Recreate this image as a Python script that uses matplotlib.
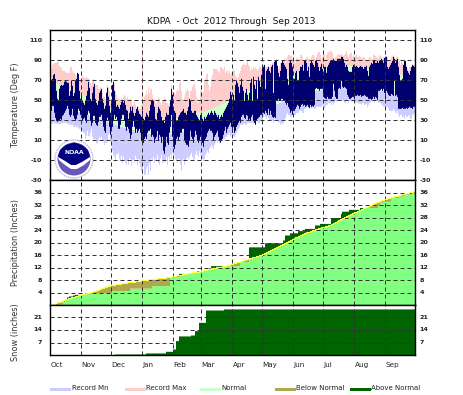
import numpy as np
import matplotlib
matplotlib.use("Agg")
import matplotlib.pyplot as plt
from matplotlib.patches import Circle, Polygon

W, H = 464, 395

# temperature, one list per month, Oct 2012 .. Sep 2013
high_oct = [71,72,76,77,72,60,52,50,62,65,66,65,66,69,70,69,68,68,55,60,70,65,55,58,70,72,78,77,60,52,55]
high_nov = [50,48,46,50,55,60,69,63,52,50,58,64,67,52,48,46,50,58,60,62,52,48,42,45,58,63,54,45,38,50]
high_dec = [66,69,60,50,44,46,44,42,46,49,50,48,50,46,41,40,32,38,44,40,44,38,35,38,42,44,40,37,36,34,40]
high_jan = [32,30,34,38,36,34,40,46,50,51,50,44,32,30,38,44,42,40,34,30,30,28,34,38,36,36,44,50,62,56,42]
high_feb = [40,38,30,30,34,36,38,39,40,42,38,38,36,40,44,52,50,40,38,38,40,40,36,34,32,30,36,38]
high_mar = [32,30,34,32,34,36,38,36,38,40,38,36,40,38,36,34,36,32,34,36,34,38,40,42,44,46,48,52,59,56,50]
high_apr = [56,50,66,70,68,64,58,66,72,64,60,50,58,62,56,50,58,68,72,50,74,66,62,70,52,74,70,64,76,84]
high_may = [84,86,62,80,82,84,80,78,84,86,58,89,90,91,85,78,74,80,88,90,88,86,84,82,72,66,88,90,88,84,72]
high_jun = [72,78,80,71,71,80,84,84,86,80,90,91,88,80,84,74,88,90,88,86,84,90,91,88,84,80,84,87,82,78]
high_jul = [84,84,78,84,86,88,90,90,90,92,90,90,90,92,92,92,92,94,94,92,88,84,86,84,80,79,79,79,84,86,84]
high_aug = [84,85,84,83,84,85,84,84,82,84,84,85,80,75,84,86,88,87,90,90,88,88,90,88,90,90,92,90,88,93,94]
high_sep = [94,84,82,84,86,88,90,94,92,88,90,92,84,76,70,70,72,86,90,90,84,80,78,76,80,84,86,85,84,85]

low_oct = [40,45,45,38,33,30,29,30,30,32,31,35,36,38,40,42,45,42,36,34,36,42,35,32,30,32,36,42,40,36,33]
low_nov = [30,32,33,30,28,36,40,38,30,25,28,35,35,28,26,25,29,34,34,36,30,24,20,18,30,33,30,24,16,20]
low_dec = [24,30,36,32,34,30,22,22,26,32,36,36,30,24,20,24,22,18,12,16,24,30,24,18,22,18,20,22,18,10,8]
low_jan = [8,12,14,12,18,20,20,22,14,16,14,8,12,14,20,10,16,14,8,14,0,-3,4,14,8,6,18,24,36,14,4]
low_feb = [2,6,12,14,10,14,18,18,22,22,10,8,6,6,4,10,20,14,12,8,14,20,16,10,8,10,14,10]
low_mar = [8,4,10,12,14,18,20,22,20,20,18,10,14,16,18,20,14,10,8,10,12,16,20,24,18,22,24,26,28,24,18]
low_apr = [24,18,20,24,26,28,30,28,34,36,36,33,32,36,35,30,32,30,34,36,30,28,26,30,32,33,34,36,36,38]
low_may = [38,37,40,38,36,42,36,40,36,34,33,34,33,50,50,52,50,50,52,52,50,50,48,46,48,44,42,38,40,36,40]
low_jun = [40,42,44,46,45,42,44,46,47,45,46,44,45,46,44,43,46,44,45,44,46,62,63,62,62,60,62,62,62,54]
low_jul = [53,52,52,54,52,52,52,52,54,67,60,54,52,52,62,63,62,70,64,63,64,63,62,56,54,52,52,53,54,54,52]
low_aug = [55,55,56,55,55,56,54,55,55,56,55,54,54,52,52,52,51,52,54,52,54,53,51,60,60,61,62,60,62,58,52]
low_sep = [60,58,56,55,55,57,56,55,70,55,56,54,42,42,42,42,43,42,42,42,43,42,43,44,43,43,42,44,44,46]

recmax_oct = [82,86,87,88,88,88,89,89,85,84,83,80,80,80,79,78,78,78,78,84,84,80,78,78,76,74,72,72,70,70,70]
recmax_nov = [76,74,73,73,74,73,72,72,68,66,70,72,68,66,66,66,62,62,64,62,58,54,54,52,60,66,64,60,52,50]
recmax_dec = [66,70,68,60,56,52,52,52,50,52,52,54,56,55,52,54,50,52,52,50,46,46,50,46,42,44,44,42,42,46,100]
recmax_jan = [50,54,56,60,56,64,58,62,62,56,52,52,48,46,50,54,52,48,46,50,50,54,52,48,48,46,48,52,66,60,56]
recmax_feb = [58,56,60,62,60,68,69,60,52,50,54,58,60,62,60,52,60,60,64,66,68,62,54,52,48,50,60,62]
recmax_mar = [58,60,70,72,76,78,66,60,64,72,76,82,82,82,82,80,80,78,84,84,82,82,84,78,80,80,78,80,76,78,78]
recmax_apr = [82,80,76,74,72,74,78,80,84,86,88,86,86,88,90,86,84,80,82,82,84,82,84,82,80,82,84,84,82,84]
recmax_may = [86,86,84,84,84,82,84,86,86,88,88,90,90,92,86,82,84,88,88,90,90,92,88,92,94,96,96,95,95,92,90]
recmax_jun = [90,88,92,94,92,92,96,96,94,90,88,92,93,94,92,92,90,94,96,96,94,92,94,97,99,99,96,92,94,96]
recmax_jul = [97,92,96,98,99,99,100,100,98,94,92,94,94,96,97,96,96,97,96,95,96,98,100,96,94,96,98,98,94,96,94]
recmax_aug = [95,96,94,94,95,94,92,94,94,93,92,90,90,92,94,94,92,92,96,96,95,94,94,92,95,96,94,92,94,92,94]
recmax_sep = [95,94,90,90,92,94,95,96,94,92,94,94,92,90,86,92,88,86,92,90,84,82,80,84,84,84,85,86,86,86]

recmin_oct = [27,27,28,28,27,27,27,27,27,27,27,28,28,28,28,28,27,26,27,26,26,26,24,24,25,24,24,23,22,22,20]
recmin_nov = [20,18,18,12,15,20,15,14,18,22,14,12,10,12,8,7,10,14,12,14,10,10,6,8,8,10,16,18,10,5]
recmin_dec = [0,-4,-6,-10,-3,-4,-2,-8,-10,-5,-12,-6,-10,-12,-14,-10,-14,-8,-8,-15,-10,-9,-12,-5,-8,-14,-8,-12,-16,-20,-26]
recmin_jan = [-15,-24,-24,-18,-15,-24,-12,-20,-8,-10,-6,-12,-8,-10,-4,-12,-14,-8,-4,-12,-10,-12,-10,-6,-14,-6,-8,-4,-8,-2,-4]
recmin_feb = [-4,-8,-10,-12,-8,-8,-14,-20,-10,-8,-14,-10,-8,-6,-8,-6,-4,-2,-6,-10,-8,-4,0,-4,-6,0,-4,-2]
recmin_mar = [-8,-10,-8,-4,-2,0,-2,2,4,6,4,2,6,8,10,8,10,8,10,12,10,12,12,14,14,16,16,18,14,16,18]
recmin_apr = [15,14,16,18,20,22,24,26,26,26,27,27,26,26,28,28,28,28,28,28,27,28,27,30,29,28,28,30,30,30]
recmin_may = [34,36,34,32,35,33,30,30,30,30,28,32,30,30,31,28,29,26,28,27,28,31,33,36,38,36,36,34,34,36,38]
recmin_jun = [36,36,38,38,38,40,40,40,38,38,42,42,43,44,43,42,44,42,43,44,42,42,44,44,44,44,44,44,45,46]
recmin_jul = [42,44,46,46,48,47,48,46,48,46,48,50,49,50,50,50,51,50,50,50,48,48,50,50,48,50,50,50,49,50,50]
recmin_aug = [48,49,48,48,47,47,46,48,47,46,46,47,44,46,48,48,50,49,50,48,50,50,49,48,48,48,46,46,44,44,44]
recmin_sep = [44,44,42,40,40,40,40,42,40,38,38,40,36,34,36,36,34,34,32,36,34,34,36,35,32,32,36,36,38,38]

normhi_oct = [70,70,69,69,68,68,67,67,66,66,65,65,65,64,64,63,63,62,62,61,61,60,60,59,59,58,58,58,57,57,56]
normhi_nov = [56,55,55,54,54,53,53,52,52,51,51,50,50,49,49,48,48,47,47,46,46,45,45,44,44,43,43,42,42,41]
normhi_dec = [41,40,40,39,39,38,38,37,37,37,36,36,36,35,35,35,34,34,34,33,33,33,33,32,32,32,32,32,31,31,31]
normhi_jan = [31,31,31,31,31,31,30,30,30,30,30,30,30,30,30,30,30,31,31,31,31,31,31,31,32,32,32,32,32,33,33]
normhi_feb = [33,33,33,33,34,34,34,34,34,35,35,35,35,35,36,36,36,36,37,37,37,37,37,38,38,38,38,38]
normhi_mar = [38,39,39,39,40,40,41,41,41,42,42,43,43,43,44,44,45,45,46,46,47,47,48,48,49,49,50,50,51,51,52]
normhi_apr = [53,53,54,54,55,55,56,56,57,57,58,58,59,59,60,60,60,61,61,62,62,63,63,64,64,64,65,65,66,66]
normhi_may = [66,67,67,68,68,68,69,69,69,70,70,70,71,71,71,72,72,72,73,73,73,74,74,74,75,75,75,76,76,76,77]
normhi_jun = [77,77,77,78,78,78,79,79,79,80,80,80,80,81,81,81,81,82,82,82,82,83,83,83,83,83,84,84,84,84]
normhi_jul = [84,84,84,84,85,85,85,85,85,85,85,85,85,85,85,85,85,85,85,85,85,85,85,85,85,85,85,85,85,85,84]
normhi_aug = [84,84,84,84,84,84,84,84,84,84,84,84,83,83,83,83,83,83,83,83,82,82,82,82,82,82,81,81,81,81,81]
normhi_sep = [80,80,80,80,79,79,79,79,78,78,78,77,77,77,76,76,76,75,75,75,74,74,74,73,73,73,72,72,72,71]

normlo_oct = [50,50,49,49,48,48,47,47,46,46,45,45,45,44,44,43,43,43,42,42,41,41,41,40,40,40,39,39,39,38,38]
normlo_nov = [38,38,37,37,37,36,36,35,35,35,34,34,33,33,33,32,32,32,31,31,30,30,30,29,29,29,28,28,28,27]
normlo_dec = [27,27,26,26,26,25,25,25,24,24,24,23,23,23,22,22,22,22,21,21,21,21,20,20,20,20,20,19,19,19,19]
normlo_jan = [18,18,18,18,18,17,17,17,17,17,17,16,16,16,16,16,16,16,16,16,16,16,16,17,17,17,17,17,17,17,17]
normlo_feb = [17,17,17,18,18,18,18,18,18,19,19,19,19,19,19,20,20,20,20,20,20,20,21,21,21,21,21,21]
normlo_mar = [22,22,22,23,23,23,24,24,24,25,25,25,26,26,26,27,27,27,28,28,28,29,29,29,30,30,30,31,31,31,32]
normlo_apr = [33,33,33,34,34,34,35,35,35,36,36,36,37,37,37,38,38,38,38,39,39,39,40,40,40,41,41,41,42,42]
normlo_may = [42,43,43,43,44,44,44,45,45,45,46,46,46,47,47,47,48,48,48,49,49,49,50,50,50,50,51,51,51,52,52]
normlo_jun = [53,53,53,54,54,54,55,55,55,56,56,56,57,57,57,58,58,58,58,59,59,59,60,60,60,60,60,61,61,61]
normlo_jul = [62,62,62,62,62,63,63,63,63,63,63,63,64,64,64,64,64,64,64,64,64,64,64,64,64,64,64,64,64,64,64]
normlo_aug = [64,64,64,64,64,64,64,64,63,63,63,63,63,63,63,62,62,62,62,62,62,61,61,61,61,61,60,60,60,60,60]
normlo_sep = [59,59,59,58,58,58,58,57,57,57,56,56,56,55,55,55,54,54,54,53,53,53,52,52,52,52,51,51,51,50]

# normal accumulated precipitation per day
precip_normal_oct = [0,.1,.2,.4,.5,.6,.7,.9,1.0,1.1,1.2,1.4,1.5,1.6,1.8,1.9,2.0,2.1,2.2,2.3,2.4,2.5,2.6,2.7,2.8,2.9,3.0,3.1,3.2,3.3,3.4]
precip_normal_nov = [3.5,3.6,3.6,3.7,3.7,3.8,3.9,4.0,4.1,4.2,4.3,4.4,4.5,4.6,4.7,4.8,4.9,5.0,5.1,5.2,5.4,5.5,5.6,5.8,5.9,6.0,6.1,6.2,6.3,6.4]
precip_normal_dec = [6.5,6.5,6.6,6.6,6.7,6.7,6.8,6.8,6.9,6.9,7.0,7.0,7.1,7.1,7.2,7.2,7.3,7.3,7.4,7.4,7.5,7.5,7.6,7.6,7.7,7.7,7.8,7.8,7.9,7.9,8.0]
precip_normal_jan = [8.1,8.1,8.1,8.2,8.2,8.2,8.3,8.3,8.3,8.4,8.4,8.4,8.5,8.5,8.5,8.6,8.6,8.6,8.7,8.7,8.7,8.8,8.8,8.8,8.9,8.9,9.0,9.0,9.1,9.2,9.3]
precip_normal_feb = [9.4,9.5,9.5,9.6,9.6,9.7,9.7,9.8,9.8,9.9,9.9,10.0,10.0,10.1,10.2,10.2,10.3,10.3,10.4,10.5,10.5,10.6,10.6,10.7,10.8,10.8,10.9,11.0]
precip_normal_mar = [11.1,11.1,11.2,11.3,11.3,11.4,11.5,11.5,11.6,11.7,11.8,11.8,11.9,12.0,12.0,12.1,12.2,12.2,12.3,12.4,12.4,12.5,12.6,12.6,12.7,12.8,12.9,13.0,13.0,13.1,13.2]
precip_normal_apr = [13.3,13.4,13.5,13.6,13.7,13.8,13.9,14.0,14.1,14.2,14.3,14.4,14.5,14.6,14.7,14.8,14.9,15.0,15.1,15.2,15.3,15.4,15.5,15.6,15.7,15.8,15.9,16.0,16.1,16.2]
precip_normal_may = [16.3,16.5,16.6,16.8,17.0,17.1,17.3,17.4,17.6,17.8,17.9,18.1,18.2,18.4,18.6,18.7,18.9,19.0,19.2,19.4,19.5,19.7,19.8,20.0,20.2,20.3,20.5,20.7,20.8,21.0,21.1]
precip_normal_jun = [21.3,21.5,21.7,21.9,22.0,22.2,22.3,22.5,22.6,22.7,22.9,23.0,23.1,23.3,23.4,23.5,23.6,23.7,23.9,24.0,24.1,24.2,24.3,24.4,24.5,24.6,24.7,24.8,24.9,25.0]
precip_normal_jul = [25.1,25.2,25.3,25.4,25.5,25.6,25.7,25.8,25.9,26.1,26.2,26.4,26.6,26.8,27.0,27.2,27.4,27.6,27.7,27.9,28.0,28.2,28.3,28.5,28.6,28.8,28.9,29.1,29.2,29.4,29.5]
precip_normal_aug = [29.7,29.8,30.0,30.1,30.3,30.4,30.6,30.7,30.9,31.0,31.1,31.3,31.4,31.6,31.7,31.9,32.0,32.1,32.3,32.4,32.6,32.7,32.9,33.0,33.2,33.3,33.4,33.6,33.7,33.8,33.9]
precip_normal_sep = [34.0,34.1,34.2,34.3,34.4,34.5,34.6,34.7,34.8,34.9,35.0,35.1,35.1,35.2,35.3,35.4,35.5,35.6,35.6,35.7,35.8,35.9,36.0,36.0,36.1,36.2,36.3,36.4,36.5,36.6]

# observed totals only change on some days, so keep those days
precip_days = [0,5,8,12,14,16,18,22,24,30,39,61,79,101,119,128,139,146,153,158,160,189,198,214,232,234,239,247,254,264,269,280,290,291,298,309,327,329,332,340,348,353,361]
precip_vals = [0,.2,.5,1.2,1.9,2.7,3.0,3.3,3.5,3.6,4.0,4.7,5.5,6.3,9.2,10.2,10.5,11.0,11.4,12.0,12.7,14.0,18.7,20.0,20.9,22.5,23.2,23.9,24.6,25.7,26.2,28.1,29.4,30.1,30.7,31.3,32.0,33.0,33.3,34.5,35.0,35.6,36.0]

snow_days = [0,64,95,115,122,125,128,140,144,148,155,173]
snow_vals = [0,.7,1.3,2.2,3.5,8.1,10.7,11.2,13.6,18.2,25.0,25.6]

month_names = ['Oct','Nov','Dec','Jan','Feb','Mar','Apr','May','Jun','Jul','Aug','Sep']
month_starts = [0,31,61,92,123,151,182,212,243,273,304,335]
temp_ticks = [-30,-10,10,30,50,70,90,110]
precip_ticks = [4,8,12,16,20,24,28,32,36]
snow_ticks = [7,14,21]

MONTHS = ['oct','nov','dec','jan','feb','mar','apr','may','jun','jul','aug','sep']
def year(prefix):
    g = globals()
    return np.array(sum([g[prefix + '_' + m] for m in MONTHS], []), dtype=float)

high = year('high'); low = year('low')
recmax = year('recmax'); recmin = year('recmin')
normhi = year('normhi'); normlo = year('normlo')
precip_normal = year('precip_normal')
days = np.arange(len(high))

def steps(step_days, step_vals):
    return np.array(step_vals)[np.searchsorted(step_days, days, side='right') - 1]

precip_obs = steps(precip_days, precip_vals)
snow_obs = steps(snow_days, snow_vals)

C_MIN, C_MAX, C_NORM = '#ccccff', '#ffcccc', '#ccffcc'
C_OBS, C_BELOW, C_ABOVE, C_FILL = '#000070', '#b0a84c', '#006400', '#80ff80'

plt.rcParams['font.family'] = 'DejaVu Sans'
fig = plt.figure(figsize=(W / 100, H / 100), dpi=100)

def panel(top, bottom):
    left, right = 50.5, 414.7
    return fig.add_axes([left / W, 1 - bottom / H, (right - left) / W, (bottom - top) / H])

def bars(ax, lo, hi, color):
    # one pixel per day, filled as a stair so neighbours do not overwrite each other
    lo = np.broadcast_to(lo, days.shape)
    hi = np.broadcast_to(hi, days.shape)
    edges = np.arange(len(days) + 1)
    ax.fill_between(edges, np.r_[lo, lo[-1]], np.r_[hi, hi[-1]], step='post', color=color, lw=0, antialiased=False, zorder=2)

def dress(ax, ymin, ymax, ticks):
    ax.set_xlim(0, 364.2)
    ax.set_ylim(ymin, ymax)
    ax.set_xticks(month_starts[1:])
    ax.set_xticklabels([])
    ax.set_yticks(ticks)
    ax.set_yticklabels([])
    ax.tick_params(length=0)
    ax.grid(True, color='#333333', lw=0.72, ls=(0, (4, 3)), zorder=5)
    ax.set_axisbelow(False)
    for s in ax.spines.values():
        s.set_linewidth(1.0)
        s.set_zorder(6)
    for t in ticks:
        ax.annotate(str(t), (0, t), xycoords=ax.get_yaxis_transform(), xytext=(-6, 0), textcoords='offset points',
                    ha='right', va='center', fontsize=4.6, fontweight='bold', color='#222222')
        ax.annotate(str(t), (1, t), xycoords=ax.get_yaxis_transform(), xytext=(3.6, 0), textcoords='offset points',
                    ha='left', va='center', fontsize=4.6, fontweight='bold', color='#222222')

# temperature
ax1 = panel(30.4, 180.3)
bars(ax1, recmin, normlo, C_MIN)
bars(ax1, normhi, recmax, C_MAX)
bars(ax1, normlo, normhi, C_NORM)
bars(ax1, low, high, C_OBS)
dress(ax1, -30, 120, temp_ticks)

# precipitation
ax2 = panel(180.3, 305.3)
bars(ax2, 0, np.minimum(precip_obs, precip_normal), C_FILL)
bars(ax2, precip_normal, np.maximum(precip_obs, precip_normal), C_ABOVE)
bars(ax2, precip_obs, np.maximum(precip_obs, precip_normal), C_BELOW)
ax2.step(days + 0.5, precip_normal, where='mid', color='#ffff40', lw=0.8, zorder=3)
dress(ax2, 0, 40, precip_ticks)

# snow
ax3 = panel(305.3, 355.3)
bars(ax3, 0, snow_obs, C_ABOVE)
dress(ax3, 0, 27.6, snow_ticks)

for name, start in zip(month_names, month_starts):
    ax3.annotate(name, (start, 0), xycoords=ax3.get_xaxis_transform(), xytext=(0, -7.2), textcoords='offset points',
                 ha='left', va='center', fontsize=5.2, color='#222222')

fig.text(231 / W, 1 - 21.5 / H, 'KDPA  - Oct  2012 Through  Sep 2013', ha='center', va='center', fontsize=6.5, color='#111111')
fig.text(16 / W, 1 - 105 / H, 'Temperature (Deg F)', rotation=90, ha='center', va='center', fontsize=5.9, color='#333333')
fig.text(16 / W, 1 - 243 / H, 'Precipitation (Inches)', rotation=90, ha='center', va='center', fontsize=5.9, color='#333333')
fig.text(16 / W, 1 - 332 / H, 'Snow (inches)', rotation=90, ha='center', va='center', fontsize=5.9, color='#333333')

# legend along the bottom
legend_names = ['Record Mn', 'Record Max', 'Normal', 'Below Normal', 'Above Normal']
legend_colors = [C_MIN, C_MAX, C_NORM, C_BELOW, C_ABOVE]
legend_left = [50, 125, 200, 275, 350]
for name, col, x in zip(legend_names, legend_colors, legend_left):
    fig.patches.append(plt.Rectangle((x / W, 1 - 391 / H), 21 / W, 3 / H, transform=fig.transFigure, color=col, lw=0))
    fig.text((x + 21.5) / W, 1 - 387.5 / H, name, ha='left', va='center', fontsize=5.0, color='#222222')

# NOAA logo
logo = fig.add_axes([(74 - 20) / W, 1 - (159 + 20) / H, 40 / W, 40 / H])
logo.set_xlim(-20, 20); logo.set_ylim(-20, 20); logo.axis('off'); logo.patch.set_alpha(0)
logo.add_patch(Circle((0, 0), 19, fc='white', ec='#b8b8dd', lw=1.0, ls=(0, (1, 0.6))))
logo.add_patch(Circle((0, 0), 16.5, fc='#6a55bb', ec='none'))
logo.add_patch(Polygon([(-16, 2), (-9, -2), (-3, -6), (2, -6), (8, -3), (16, 2), (14, 9), (8, 14), (0, 16.5), (-8, 14), (-14, 9)], fc='#000080', ec='none', zorder=1.5))
logo.add_patch(Polygon([(-16, 2), (-9, -2), (-3, -6), (2, -6), (8, -3), (16, 2), (16, -1), (10, -6), (3, -10), (-3, -10), (-9, -6), (-15, -1)], fc='white', ec='none', zorder=1.6))
logo.text(0, 6, 'NOAA', color='white', fontsize=4.4, fontweight='bold', ha='center', va='center', zorder=2)

fig.savefig('out.png', dpi=100)
